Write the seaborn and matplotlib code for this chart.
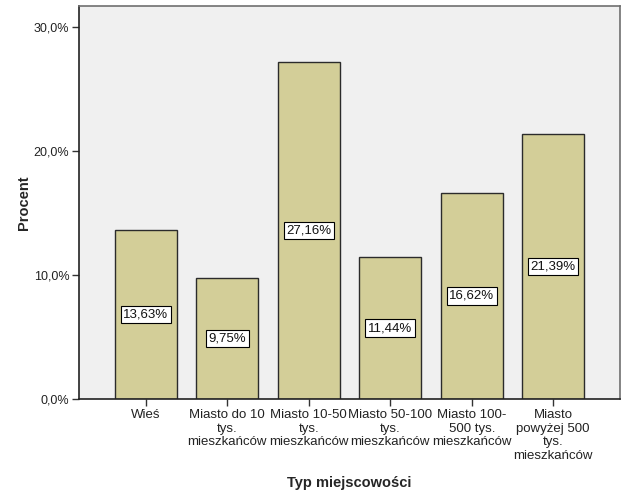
import matplotlib
matplotlib.use("Agg")
import matplotlib.pyplot as plt
import seaborn as sns
import pandas as pd
from matplotlib.ticker import FuncFormatter

categories = ["Wieś", "Miasto do 10\ntys.\nmieszkańców", "Miasto 10-50\ntys.\nmieszkańców",
              "Miasto 50-100\ntys.\nmieszkańców", "Miasto 100-\n500 tys.\nmieszkańców",
              "Miasto\npowyżej 500\ntys.\nmieszkańców"]
values = [13.63, 9.75, 27.16, 11.44, 16.62, 21.39]
yticks = [0, 10, 20, 30]

sns.set_style("white")
plt.rcParams['font.family'] = ['Liberation Sans', 'DejaVu Sans']

df = pd.DataFrame({"cat": categories, "val": values})

fig = plt.figure(figsize=(6.29, 5.04), dpi=100)
ax = fig.add_axes([79/629, 1-399/504, (620-79)/629, (399-6)/504])
ax.set_facecolor("#F0F0F0")

sns.barplot(data=df, x="cat", y="val", color="#D3CE98", width=0.76,
            edgecolor="#2b2b2b", linewidth=1.0, saturation=1, ax=ax)

for i, v in enumerate(values):
    ax.text(i, v/2, f"{v:.2f}%".replace(".", ","), ha="center", va="center",
            fontsize=9.5, color="#111111",
            bbox=dict(boxstyle="square,pad=0.2", fc="white", ec="black", lw=0.8))

ax.set_xlim(-0.82, 5.82)
ax.set_ylim(0, 31.7)
ax.set_yticks(yticks)
ax.yaxis.set_major_formatter(FuncFormatter(lambda v, p: f"{v:.1f}%".replace(".", ",")))
ax.tick_params(axis="both", direction="out", length=5, width=1, color="#333333",
               labelsize=9.5, labelcolor="#222222", left=True, bottom=True)
ax.tick_params(axis="y", pad=2, labelsize=9)
ax.tick_params(axis="x", pad=2)
for lbl in ax.get_xticklabels():
    lbl.set_linespacing(1.2)

for s in ["left", "bottom"]:
    ax.spines[s].set_color("#222222")
    ax.spines[s].set_linewidth(1.2)
for s in ["top", "right"]:
    ax.spines[s].set_color("#6f6f6f")
    ax.spines[s].set_linewidth(1.2)

ax.set_xlabel("Typ miejscowości", fontsize=10.5, fontweight="bold", labelpad=10)
ax.set_ylabel("Procent", fontsize=10.5, fontweight="bold", labelpad=2)

fig.savefig("out.png", dpi=100)
